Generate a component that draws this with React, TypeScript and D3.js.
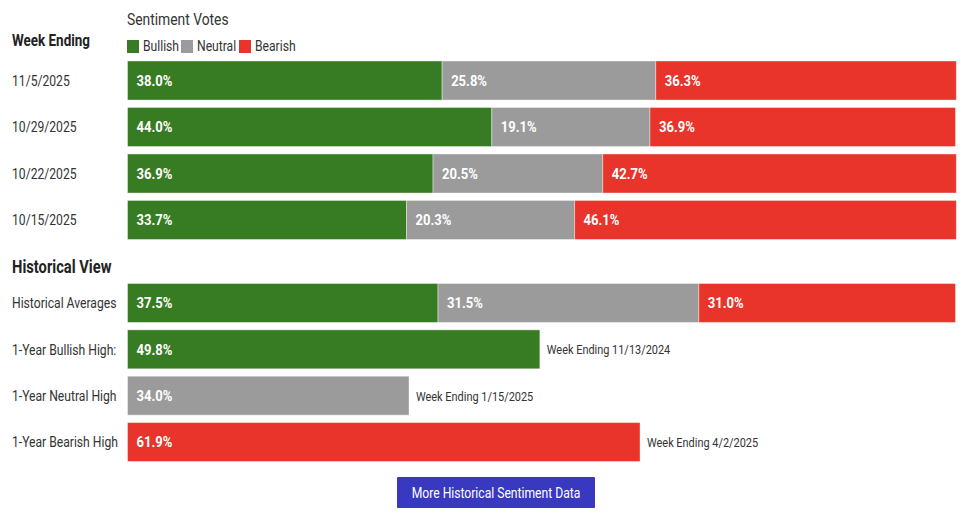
import React from 'react';
import * as d3 from 'd3';

// Weekly sentiment votes (%)
const weeks = ['11/5/2025', '10/29/2025', '10/22/2025', '10/15/2025'];
const bullish = [38.0, 44.0, 36.9, 33.7];
const neutral = [25.8, 19.1, 20.5, 20.3];
const bearish = [36.3, 36.9, 42.7, 46.1];

// Historical view
const histAvgLabel = 'Historical Averages';
const histAvg = [37.5, 31.5, 31.0];
const highLabels = ['1-Year Bullish High:', '1-Year Neutral High', '1-Year Bearish High'];
const highValues = [49.8, 34.0, 61.9];
const highDates = ['Week Ending 11/13/2024', 'Week Ending 1/15/2025', 'Week Ending 4/2/2025'];

const seriesNames = ['Bullish', 'Neutral', 'Bearish'];
const colors = ['#377b23', '#9b9b9b', '#e8342a'];

const W = 965;
const H = 514;
const FONT = 'Roboto, "Noto Sans", sans-serif';
const SX = 0.81; // squeeze to look like the condensed font

// text drawn through a horizontal squeeze
function T({ x, y, sx = SX, children, ...rest }: any) {
  return (
    <text transform={`translate(${x},${y}) scale(${sx},1)`} dy="0.36em" {...rest}>
      {children}
    </text>
  );
}

export default function App() {
  const x = d3.scaleLinear().domain([0, 100]).range([127.5, 955.5]);

  const yWeek = d3.scaleBand<string>().domain(weeks).range([61, 239.5]).paddingInner(0.16);
  const histRows = [histAvgLabel, ...highLabels];
  const yHist = d3.scaleBand<string>().domain(histRows).range([283.5, 461.5]).paddingInner(0.16);

  const fmt = (v: number) => v.toFixed(1) + '%';

  // stacked segments for the weekly rows
  const weekRows = weeks.map((w, i) => {
    const vals = [bullish[i], neutral[i], bearish[i]];
    let acc = 0;
    return {
      label: w,
      segs: vals.map((v, k) => {
        const s = { x0: acc, x1: acc + v, v, k };
        acc += v;
        return s;
      }),
    };
  });

  let acc = 0;
  const avgSegs = histAvg.map((v, k) => {
    const s = { x0: acc, x1: acc + v, v, k };
    acc += v;
    return s;
  });

  const barText = (x0: number, y: number, bw: number, v: number) => (
    <T x={x(x0) + 9} y={y + bw / 2} sx={0.9} fill="#fff" fontWeight="bold" fontSize={14.5}>
      {fmt(v)}
    </T>
  );

  const seg = (s: any, y: number, bw: number) => (
    <g key={s.k}>
      <rect
        x={x(s.x0)}
        y={y}
        width={x(s.x1) - x(s.x0)}
        height={bw}
        fill={colors[s.k]}
        stroke="rgba(255,255,255,0.4)"
        strokeWidth={1}
      />
      {barText(s.x0, y, bw, s.v)}
    </g>
  );

  return (
    <div style={{ position: 'absolute', left: 0, top: 0 }}>
      <svg width={W} height={H} style={{ display: 'block', fontFamily: FONT }}>
        <rect width={W} height={H} fill="#fff" />

        {/* header */}
        <T x={12} y={40} sx={0.84} fontSize={16} fontWeight="bold" fill="#222">
          Week Ending
        </T>
        <T x={127} y={19} sx={0.84} fontSize={16.5} fill="#333">
          Sentiment Votes
        </T>
        {seriesNames.map((n, i) => {
          const lx = [127, 181, 239][i];
          return (
            <g key={n}>
              <rect x={lx} y={40} width={12} height={13} fill={colors[i]} />
              <T x={lx + 16} y={46} fontSize={15} fill="#333">
                {n}
              </T>
            </g>
          );
        })}

        {/* weekly rows */}
        {weekRows.map((r) => {
          const y = yWeek(r.label)!;
          const bw = yWeek.bandwidth();
          return (
            <g key={r.label}>
              <T x={12} y={y + bw / 2} fontSize={15} fill="#333">
                {r.label}
              </T>
              {r.segs.map((s) => seg(s, y, bw))}
            </g>
          );
        })}

        {/* historical */}
        <T x={12} y={266.5} sx={0.84} fontSize={17.5} fontWeight="bold" fill="#222">
          Historical View
        </T>
        {(() => {
          const y = yHist(histAvgLabel)!;
          const bw = yHist.bandwidth();
          return (
            <g>
              <T x={12} y={y + bw / 2} fontSize={15} fill="#333">
                {histAvgLabel}
              </T>
              {avgSegs.map((s) => seg(s, y, bw))}
            </g>
          );
        })()}
        {highLabels.map((l, i) => {
          const y = yHist(l)!;
          const bw = yHist.bandwidth();
          return (
            <g key={l}>
              <T x={12} y={y + bw / 2} fontSize={15} fill="#333">
                {l}
              </T>
              {seg({ x0: 0, x1: highValues[i], v: highValues[i], k: i }, y, bw)}
              <T x={x(highValues[i]) + 7} y={y + bw / 2} fontSize={13.5} fill="#333">
                {highDates[i]}
              </T>
            </g>
          );
        })}

        {/* button */}
        <rect x={397} y={477} width={198} height={31} fill="#3838c0" rx={1} />
        <T x={496} y={492.5} textAnchor="middle" fontSize={15} fill="#fff">
          More Historical Sentiment Data
        </T>
      </svg>
    </div>
  );
}
